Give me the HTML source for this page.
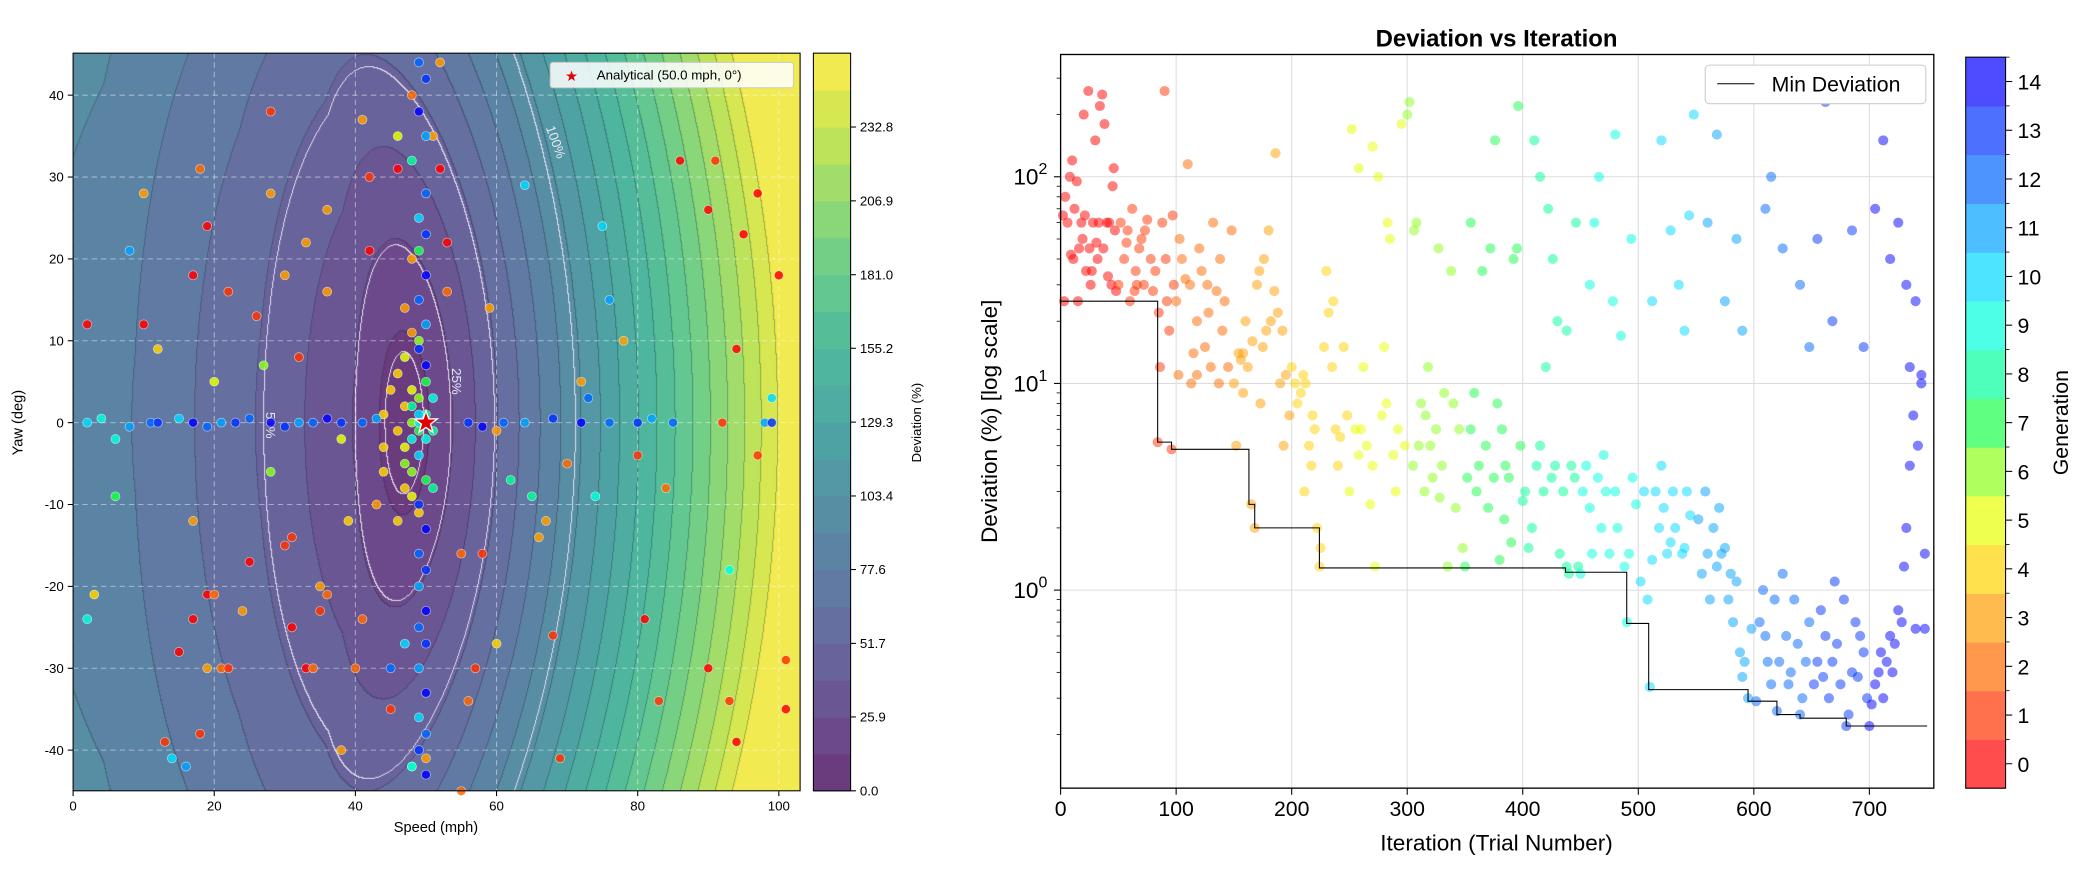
<!DOCTYPE html>
<html><head><meta charset="utf-8">
<style>
html,body{margin:0;padding:0;background:#fff;}
#wrap{position:relative;width:2084px;height:872px;overflow:hidden;font-family:"Liberation Sans","DejaVu Sans",sans-serif;}
#inner{position:absolute;left:0;top:0;width:1568px;height:656px;transform:scale(1.32908);transform-origin:0 0;}
#cf{position:absolute;left:55px;top:40px;width:547px;height:555px;}
#svg{position:absolute;left:0;top:0;}
</style></head><body>
<div id="wrap">
<div id="inner">
<canvas id="cf" width="727" height="738"></canvas>
<svg id="svg" width="1568" height="656" xmlns="http://www.w3.org/2000/svg"></svg>
</div>
</div>
<script>
// ---------- LEFT CHART DATA ----------
const leftSpeed = [2,3,2,6,6,8,10,10,12,13,14,15,16,17,17,17,18,18,19,19,20,20,21,22,19,22,24,25,26,27,28,28,28,30,30,31,31,32,33,33,34,35,35,36,36,36,38,38,39,40,41,41,42,42,43,44,44,45,45,46,46,47,48,48,48,50,52,51,52,53,53,55,56,55,57,58,59,60,60,62,64,65,66,67,68,69,70,72,73,74,75,76,78,80,81,83,84,86,90,90,91,92,93,93,94,94,95,97,97,100,101,101,99,98,
46,47,48,49,47,48,49,50,50,49,48,47,48,50,49,47,46,51,50,48,47,46,51,49,47,48,49,50,49,48,51,45,44,
49,50,49,50,48,50,49,50,49,50,49,50,49,50,49,50,49,50,49,50,49,50,49,50,49,50,49,48,50,
2,4,8,11,12,15,17,19,21,23,25,28,30,32,34,36,38,41,43,56,58,61,64,68,72,76,80,82,85,99];
const leftYaw = [12,-21,-24,-9,-2,21,28,12,9,-39,-41,-28,-42,18,-24,-12,31,-38,-30,-21,-21,5,-30,-30,24,16,-23,-17,13,7,-6,38,28,-15,18,-14,-25,8,22,-30,-30,-23,-20,-21,26,16,-40,-2,-12,-30,37,-24,30,21,-10,-3,1,-35,-30,35,31,-27,40,20,-42,-41,44,35,31,22,16,-16,-34,-45,-30,-16,14,-1,-27,-7,29,-9,-14,-12,-26,-41,-5,5,3,-9,24,15,10,-4,-24,-34,-8,32,26,-30,32,0,-34,-18,-39,9,23,28,-4,18,-29,-35,3,0,
6,8,4,3,2,0,-1,1,-2,-4,-6,-8,-9,-7,-11,-3,-1,3,5,11,14,-12,-8,10,-5,2,0,0,1,-2,-1,4,-6,
44,42,38,35,32,28,25,23,21,18,15,12,9,7,-10,-13,-16,-18,-20,-23,-25,-27,-30,-33,-36,-38,-40,-42,-43,
0,0.5,-0.5,0,0,0.5,0,-0.5,0,0,0.5,0,-0.5,0,0,0.5,0,0,0.5,0,-0.5,0,0,0.5,0,0,0,0.5,0,0];
const leftGen = [0,4,9,7,9,11,3,0,4,1,10,0,11,0,0,3,2,1,3,0,2,5,2,1,0,1,3,0,1,6,6,1,3,1,3,1,0,1,3,0,2,1,3,2,3,3,3,5,4,2,3,2,1,0,3,4,4,1,12,5,0,10,2,3,7,3,3,3,0,0,2,2,2,2,1,1,3,3,4,8,10,8,3,3,1,1,2,3,12,9,10,11,3,1,0,1,2,0,0,0,1,1,1,9,0,0,0,0,1,0,1,0,10,11,
4,5,5,6,4,6,7,8,9,10,6,4,5,7,4,5,4,9,7,3,3,4,8,6,6,8,9,10,10,9,8,4,4,
12,13,14,11,8,12,10,13,7,14,12,11,13,14,13,14,12,13,11,14,12,13,11,14,10,12,13,9,14,
10,9,11,12,13,10,14,12,11,13,12,14,13,11,12,14,13,12,11,13,14,12,11,13,14,12,13,11,12,13];
const cbLeftTicks = ["0.0","25.9","51.7","77.6","103.4","129.3","155.2","181.0","206.9","232.8"];
const speedTicks = [0,20,40,60,80,100];
const yawTicks = [-40,-30,-20,-10,0,10,20,30,40];

// ---------- RIGHT CHART DATA ----------
const iterations = [2,4,6,8,10,12,14,16,18,20,22,24,26,28,30,32,34,36,38,40,42,44,46,48,3,15,27,37,11,21,33,45,19,9,31,41,47,25,
50,52,55,58,60,62,65,68,70,72,75,78,80,82,84,86,88,90,92,94,96,98,57,64,73,85,91,97,66,
100,103,105,108,110,112,115,118,120,122,125,128,130,132,135,138,140,142,145,148,113,127,137,102,118,
150,152,154,156,158,160,162,165,168,170,172,175,178,180,182,185,188,190,192,195,198,176,186,158,166,173,193,
200,203,205,208,210,212,215,218,220,222,224,225,228,230,232,235,238,240,242,245,248,211,217,236,
250,252,255,258,260,262,265,268,270,272,275,278,280,282,285,288,290,292,295,298,300,258,283,270,
302,305,308,310,312,315,318,320,322,325,328,330,332,335,338,340,342,345,348,350,306,316,327,
352,355,358,360,362,365,368,370,372,375,378,380,382,385,388,390,392,395,398,355,376,396,384,
400,402,405,408,410,412,415,418,420,422,425,428,430,432,435,438,440,442,445,448,415,426,438,446,
450,452,455,458,460,462,465,468,470,472,475,478,480,482,485,488,490,492,495,498,466,480,494,458,
502,505,508,510,512,515,518,520,522,525,528,530,532,535,538,540,542,545,548,512,528,540,520,544,
552,555,558,560,562,565,568,570,572,575,578,580,582,585,588,590,592,595,598,560,575,590,568,585,
602,605,608,610,612,615,618,620,622,625,628,630,632,635,638,640,642,645,648,610,625,640,648,615,
652,655,658,660,662,665,668,670,672,675,678,680,682,685,688,690,692,695,698,655,668,685,695,662,
700,702,705,708,710,712,715,718,720,722,725,728,730,732,735,738,740,742,745,748,718,725,732,740,745,705,712,735,748];
const deviations = [65,80,60,100,120,70,95,45,60,200,35,260,30,60,150,40,220,250,180,60,60,30,110,28,25,25,35,45,40,65,60,90,50,42,48,33,55,45,
30,60,40,55,25,70,35,45,50,30,62,40,28,35,5.2,12,60,260,25,18,4.8,30,48,28,55,22,40,65,30,
25,50,40,32,115,30,14,20,45,35,15,22,12,60,28,40,18,25,12,55,10,30,10,11,11,
10,5,14,13,14,20,12,2.6,2.0,30,35,15,18,55,20,28,22,10,18,11,7,40,130,9,16,8,5,
12,10,8,9,11,10,5,7,6,2,1.3,1.6,15,35,22,12,6,4,5.5,15,7,3,4,25,
3,170,6,4.5,6,12,5,2.6,4,1.3,100,7,15,8,50,4.5,3,6,180,5,200,110,60,140,
230,4,60,5,8,3,12,5,3.5,6,2.8,4,9,1.3,35,8,2.5,6,1.6,1.3,55,7,45,
3.5,6,9,3,4,35,5,2.5,45,3.5,8,1.4,6,4,3.5,1.7,40,45,5,60,150,220,2.2,
2.7,3,1.6,2,150,4,5,3,12,70,3.5,4,20,1.5,3,1.3,1.2,4,3.5,1.3,100,40,18,60,
1.2,3,4,2.5,1.5,60,3.5,2,4.5,3,1.5,25,3,2,17,1.3,0.7,1.5,3.5,2.6,100,160,50,30,
1.1,3,0.9,0.34,1.4,3,2,4,2.5,1.5,1.7,3,2,30,1.5,1.6,3,2.3,200,25,55,18,150,65,
2.2,1.2,3,1.5,0.9,2,1.3,2.5,1.5,1.6,0.9,1.2,0.7,1.1,0.5,0.38,0.45,0.3,0.65,60,25,18,160,50,
0.29,0.7,1,0.6,0.45,0.35,0.9,0.26,0.45,1.2,0.6,0.35,0.4,0.9,0.55,0.25,0.3,0.45,0.7,70,45,30,15,100,
0.35,0.45,0.8,0.38,0.6,0.3,0.45,1.1,0.55,0.35,0.9,0.22,0.25,0.4,0.7,0.38,0.6,0.5,0.3,50,20,55,15,230,
0.22,0.28,0.35,0.4,0.5,0.3,0.45,0.6,0.4,0.55,0.8,0.7,1.3,2,4,7,0.65,5,10,0.65,40,60,30,25,11,70,150,12,1.5];
const minIter = [0,84,96,163,168,224,437,490,509,595,620,640,680,750];
const minDev = [25,5.2,4.8,2.6,2.0,1.28,1.22,0.69,0.33,0.29,0.25,0.24,0.22,0.22];
const iterTicks = [0,100,200,300,400,500,600,700];
const genLabels = ["0","1","2","3","4","5","6","7","8","9","10","11","12","13","14"];

// ---------- helpers ----------
const NS="http://www.w3.org/2000/svg";
const svg=document.getElementById('svg');
function el(tag,attrs,parent,text){const e=document.createElementNS(NS,tag);for(const k in attrs)e.setAttribute(k,attrs[k]);if(text!==undefined)e.textContent=text;(parent||svg).appendChild(e);return e;}
const genColors=['#ff0000','#ff3300','#ff6a00','#ff9e00','#ffd200','#e6ff00','#8cff1a','#1aff4d','#00ff99','#00ffdd','#00d9ff','#00a2ff','#0066ff','#0033ff','#0000ff'];
const vir=['#440154','#482475','#414487','#355f8d','#2a788e','#21918c','#22a884','#44bf70','#7ad151','#bddf26','#fde725'];
function hex(h){return [parseInt(h.substr(1,2),16),parseInt(h.substr(3,2),16),parseInt(h.substr(5,2),16)];}
function viridis(t){t=Math.max(0,Math.min(1,t));const p=t*10,i=Math.min(9,Math.floor(p)),f=p-i;const a=hex(vir[i]),b=hex(vir[i+1]);return [0,1,2].map(k=>a[k]+(b[k]-a[k])*f);}
function blend(c,al){return c.map(v=>Math.round(v*al+255*(1-al)));}

// ---------- LEFT axes ----------
const LX0=55,LY0=40,LW=547,LH=555;
const sx=v=>LX0+v*5.31, sy=y=>318-y*6.16;
const NLEV=20, VMAX=258.7;
const kd=[0,7,20,38,47,60], ka=[0,25,50,77,85,90];
function leftA(d){for(let i=1;i<kd.length;i++)if(d<=kd[i]){const f=(d-kd[i-1])/(kd[i]-kd[i-1]);return ka[i-1]+f*(ka[i]-ka[i-1]);}return ka[ka.length-1];}
function dev(v,y){const v0=47-5.5*(y/45)*(y/45);let a;
 if(v<v0)a=leftA(v0-v);else{const d=v-v0;a=3.7*d+0.018*d*d;}
 const b=1.15*y;return Math.sqrt(a*a+b*b);}
const levColor=i=>blend(viridis((i+0.5)/NLEV),0.8);
(function(){
 const cv=document.getElementById('cf');const CW=cv.width,CH=cv.height;
 const c=cv.getContext('2d');const img=c.createImageData(CW,CH);
 const idx=new Int16Array(CW*CH), wl=new Int8Array(CW*CH); const whites=[10,25,50,100];
 for(let py=0;py<CH;py++)for(let px=0;px<CW;px++){const v=(px*LW/CW)/5.31,y=(278-py*LH/CH)/6.16;const d=dev(v,y);
  idx[py*CW+px]=Math.min(NLEV-1,Math.floor(d/VMAX*NLEV));let w=0;for(const L of whites)if(d>L)w++;wl[py*CW+px]=w;}
 for(let py=0;py<CH;py++)for(let px=0;px<CW;px++){const k=py*CW+px;let col=levColor(idx[k]);
  const r=px<CW-1?k+1:k,b=py<CH-1?k+CW:k;
  if(wl[k]!==wl[r]||wl[k]!==wl[b])col=[225,220,235];
  else if(idx[k]!==idx[r]||idx[k]!==idx[b])col=col.map(x=>Math.round(x*0.75));
  img.data[k*4]=col[0];img.data[k*4+1]=col[1];img.data[k*4+2]=col[2];img.data[k*4+3]=255;}
 c.putImageData(img,0,0);
})();
const gL=el('g',{});
speedTicks.forEach(t=>{const g=el('line',{x1:sx(t),x2:sx(t),y1:LY0,y2:LY0+LH,stroke:'#fff','stroke-opacity':0.45,'stroke-dasharray':'4,3','stroke-width':0.8},gL);
 });
yawTicks.forEach(t=>{const g=el('line',{x1:LX0,x2:LX0+LW,y1:sy(t),y2:sy(t),stroke:'#fff','stroke-opacity':0.45,'stroke-dasharray':'4,3','stroke-width':0.8},gL);
 });
[['25%',340,287,90],['50%',200,320,90],['100%',415,108,70]].forEach(a=>{const t=el('text',{x:a[1],y:a[2],fill:'#e8e4f0','font-size':10,'text-anchor':'middle',transform:`rotate(${a[3]} ${a[1]} ${a[2]})`},gL,a[0]);
 });
for(let i=0;i<leftSpeed.length;i++){const p=el('circle',{cx:sx(leftSpeed[i]),cy:sy(leftYaw[i]),r:3.4,fill:genColors[leftGen[i]],'fill-opacity':0.85,stroke:'#fff','stroke-opacity':0.6,'stroke-width':0.5},gL);
 }
(function(){const cx=sx(50),cy=sy(0),pts=[];for(let k=0;k<10;k++){const r=k%2?3.6:9,a=-Math.PI/2+k*Math.PI/5;pts.push((cx+r*Math.cos(a)).toFixed(1)+','+(cy+r*Math.sin(a)).toFixed(1));}
 const s=el('polygon',{points:pts.join(' '),fill:'#e00000',stroke:'#fff','stroke-width':1},gL);})();
el('rect',{x:LX0,y:LY0,width:LW,height:LH,fill:'none',stroke:'#000','stroke-width':0.8,},gL);
speedTicks.forEach(t=>{el('line',{x1:sx(t),x2:sx(t),y1:LY0+LH,y2:LY0+LH+4,stroke:'#000','stroke-width':0.8},gL);const tx=el('text',{x:sx(t),y:LY0+LH+15,'font-size':10,'text-anchor':'middle'},gL,String(t));
 });
yawTicks.forEach(t=>{el('line',{x1:LX0-4,x2:LX0,y1:sy(t),y2:sy(t),stroke:'#000','stroke-width':0.8},gL);const tx=el('text',{x:LX0-7,y:sy(t)+3.5,'font-size':10,'text-anchor':'end'},gL,String(t));
 });
el('text',{x:328,y:626,'font-size':11,'text-anchor':'middle',},gL,'Speed (mph)');
el('text',{x:17,y:318,'font-size':11,'text-anchor':'middle',transform:'rotate(-90 17 318)',},gL,'Yaw (deg)');
const lg=el('g',{},gL);
el('rect',{x:414,y:47,width:183,height:19,rx:2,fill:'#fff','fill-opacity':0.85,stroke:'#ccc','stroke-width':0.8},lg);
el('text',{x:430,y:61,'font-size':11,fill:'#e00000','text-anchor':'middle'},lg,'★');
el('text',{x:449,y:60,'font-size':10},lg,'Analytical (50.0 mph, 0°)');
const CB1X=612,CB1W=28;const cbY=v=>595-v*(555/VMAX);
for(let i=0;i<NLEV;i++){const c=levColor(i);const r=el('rect',{x:CB1X,y:cbY((i+1)*VMAX/NLEV),width:CB1W,height:555/NLEV+0.5,fill:`rgb(${c[0]},${c[1]},${c[2]})`},gL);
 }
el('rect',{x:CB1X,y:40,width:CB1W,height:555,fill:'none',stroke:'#000','stroke-width':0.8,},gL);
cbLeftTicks.forEach(t=>{const y=cbY(parseFloat(t));el('line',{x1:CB1X+CB1W,x2:CB1X+CB1W+4,y1:y,y2:y,stroke:'#000','stroke-width':0.8},gL);const tx=el('text',{x:CB1X+CB1W+7,y:y+3.5,'font-size':10},gL,t);
 });
el('text',{x:693,y:318,'font-size':10,'text-anchor':'middle',transform:'rotate(-90 693 318)',},gL,'Deviation (%)');

// ---------- RIGHT chart ----------
const RX0=798,RY0=41,RW=657,RH=552;
const rx=i=>RX0+i*0.8693, ry=d=>444-Math.log10(d)*155.5;
const gR=el('g',{});
iterTicks.forEach(t=>{const g=el('line',{x1:rx(t),x2:rx(t),y1:RY0,y2:RY0+RH,stroke:'#ddd','stroke-width':0.8},gR);
 });
[1,10,100].forEach(t=>{const g=el('line',{x1:RX0,x2:RX0+RW,y1:ry(t),y2:ry(t),stroke:'#ddd','stroke-width':0.8},gR);
 });
for(let i=0;i<iterations.length;i++){const g=Math.min(14,Math.floor(iterations[i]/50));
 const p=el('circle',{cx:rx(iterations[i]),cy:ry(deviations[i]),r:3.8,fill:genColors[g],'fill-opacity':0.5},gR);
 }
(function(){let d='';for(let i=0;i<minIter.length;i++){const x=rx(minIter[i]),y=ry(minDev[i]);if(i===0)d+=`M${x},${y}`;else d+=` H${x} V${y}`;}
 const p=el('path',{d:d,fill:'none',stroke:'#000','stroke-width':0.8},gR);})();
el('rect',{x:RX0,y:RY0,width:RW,height:RH,fill:'none',stroke:'#000','stroke-width':1,},gR);
iterTicks.forEach(t=>{el('line',{x1:rx(t),x2:rx(t),y1:RY0+RH,y2:RY0+RH+5,stroke:'#000','stroke-width':0.8},gR);const tx=el('text',{x:rx(t),y:RY0+RH+21,'font-size':16,'text-anchor':'middle'},gR,String(t));
 });
[0,1,2].forEach(e=>{const y=ry(Math.pow(10,e));el('line',{x1:RX0-5,x2:RX0,y1:y,y2:y,stroke:'#000','stroke-width':0.8},gR);
 const tx=el('text',{x:RX0-10,y:y+6,'font-size':17,'text-anchor':'end'},gR);
 tx.appendChild(document.createTextNode('10'));el('tspan',{dy:-8,'font-size':12},tx,String(e));});
for(let e=-1;e<3;e++)for(let m=2;m<10;m++){const v=m*Math.pow(10,e);const y=ry(v);if(y<RY0||y>RY0+RH)continue;el('line',{x1:RX0-3,x2:RX0,y1:y,y2:y,stroke:'#000','stroke-width':0.6},gR);}
el('text',{x:1126,y:35,'font-size':18,'font-weight':'bold','text-anchor':'middle',},gR,'Deviation vs Iteration');
el('text',{x:1126,y:640,'font-size':17,'text-anchor':'middle',},gR,'Iteration (Trial Number)');
el('text',{x:750,y:317,'font-size':17,'text-anchor':'middle',transform:'rotate(-90 750 317)',},gR,'Deviation (%) [log scale]');
const lr=el('g',{},gR);
el('rect',{x:1283,y:49,width:166,height:29,rx:3,fill:'#fff',stroke:'#ccc','stroke-width':0.8},lr);
el('line',{x1:1292,x2:1320,y1:63,y2:63,stroke:'#000','stroke-width':0.8},lr);
el('text',{x:1333,y:69,'font-size':16},lr,'Min Deviation');
const CB2X=1479,CB2W=30,CB2T=43,CB2H=550,bin=CB2H/15;
genLabels.forEach((l,i)=>{const y=CB2T+CB2H-(i+1)*bin;const c=blend(hex(genColors[i]),0.7);
 const r=el('rect',{x:CB2X,y:y,width:CB2W,height:bin+0.5,fill:`rgb(${c[0]},${c[1]},${c[2]})`},gR);
 el('line',{x1:CB2X+CB2W,x2:CB2X+CB2W+5,y1:y+bin/2,y2:y+bin/2,stroke:'#000','stroke-width':0.8},gR);
 el('line',{x1:CB2X+CB2W,x2:CB2X+CB2W+3,y1:y,y2:y,stroke:'#000','stroke-width':0.6},gR);
 const t=el('text',{x:CB2X+CB2W+9,y:y+bin/2+6,'font-size':16},gR,l);});
el('rect',{x:CB2X,y:CB2T,width:CB2W,height:CB2H,fill:'none',stroke:'#000','stroke-width':0.8,},gR);
el('text',{x:1556,y:318,'font-size':16,'text-anchor':'middle',transform:'rotate(-90 1556 318)',},gR,'Generation');
</script>
</body></html>
